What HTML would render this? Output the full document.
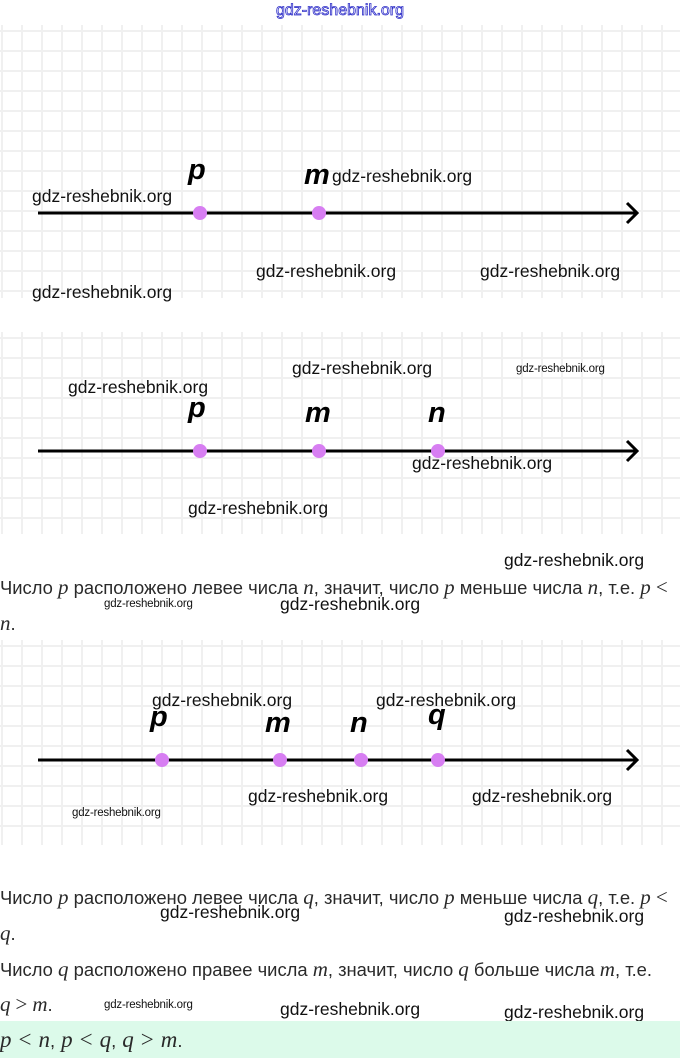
<!DOCTYPE html>
<html><head><meta charset="utf-8">
<style>
html,body{margin:0;padding:0;background:#fff;}
body{width:680px;height:1058px;position:relative;overflow:hidden;font-family:"Liberation Sans",sans-serif;}
.grid{position:absolute;left:0;width:680px;
 background-image:linear-gradient(to right,#f0f0f0 0,#f0f0f0 2px,transparent 2px),linear-gradient(to bottom,#f0f0f0 0,#f0f0f0 2px,transparent 2px);
 background-size:20px 20px;background-position:1px 5px;}
.wm{position:absolute;font-family:"Liberation Sans",sans-serif;font-size:17.5px;color:#111;white-space:nowrap;line-height:1;}
.wms{position:absolute;font-family:"Liberation Sans",sans-serif;font-size:11.5px;color:#111;white-space:nowrap;line-height:1;letter-spacing:-0.2px;}
.lbl{position:absolute;font-family:"Liberation Sans",sans-serif;font-style:italic;font-weight:bold;font-size:29px;color:#000;line-height:1;}
.txt{position:absolute;left:0;font-family:"Liberation Sans",sans-serif;font-size:18.4px;color:#2a2a2a;white-space:nowrap;line-height:1;}
.v{font-family:"Liberation Serif",serif;font-style:italic;font-size:21px;}
.m{font-family:"Liberation Serif",serif;font-size:21px;}
.g .v,.g .m{font-size:23px;}
.op{margin:0 5px;}
.g .op{margin:0 7px;}
.g .c{margin-right:6px;}
</style></head><body>

<div style="position:absolute;left:0;top:3px;width:680px;text-align:center;font-size:16px;color:#fff;-webkit-text-stroke:0.8px #2d2dc8;line-height:1;">gdz-reshebnik.org</div>

<div class="grid" style="top:25px;height:273px;"></div>
<div class="grid" style="top:332px;height:202px;"></div>
<div class="grid" style="top:640px;height:205px;"></div>

<svg width="680" height="1058" style="position:absolute;left:0;top:0;">
 <g stroke="#000" stroke-width="3" fill="none">
  <line x1="38" y1="213" x2="636" y2="213"/>
  <polyline points="627,203 637,213 627,223"/>
  <line x1="38" y1="451" x2="636" y2="451"/>
  <polyline points="627,441 637,451 627,461"/>
  <line x1="38" y1="760" x2="636" y2="760"/>
  <polyline points="627,750 637,760 627,770"/>
 </g>
 <g fill="#d77ef2">
  <circle cx="200" cy="213" r="7"/>
  <circle cx="319" cy="213" r="7"/>
  <circle cx="200" cy="451" r="7"/>
  <circle cx="319" cy="451" r="7"/>
  <circle cx="438" cy="451" r="7"/>
  <circle cx="162" cy="760" r="7"/>
  <circle cx="280" cy="760" r="7"/>
  <circle cx="361" cy="760" r="7"/>
  <circle cx="438" cy="760" r="7"/>
 </g>
</svg>

<!-- panel 1 labels -->
<div class="lbl" style="left:188px;top:156px;">p</div>
<div class="lbl" style="left:304px;top:161px;">m</div>
<div class="wm" style="left:32px;top:188px;">gdz-reshebnik.org</div>
<div class="wm" style="left:332px;top:168px;">gdz-reshebnik.org</div>
<div class="wm" style="left:256px;top:263px;">gdz-reshebnik.org</div>
<div class="wm" style="left:480px;top:263px;">gdz-reshebnik.org</div>
<div class="wm" style="left:32px;top:284px;">gdz-reshebnik.org</div>

<!-- panel 2 -->
<div class="lbl" style="left:188px;top:394px;">p</div>
<div class="lbl" style="left:305px;top:399px;">m</div>
<div class="lbl" style="left:428px;top:399px;">n</div>
<div class="wm" style="left:68px;top:379px;">gdz-reshebnik.org</div>
<div class="wm" style="left:292px;top:360px;">gdz-reshebnik.org</div>
<div class="wms" style="left:516px;top:364px;">gdz-reshebnik.org</div>
<div class="wm" style="left:412px;top:455px;">gdz-reshebnik.org</div>
<div class="wm" style="left:188px;top:500px;">gdz-reshebnik.org</div>

<!-- text 1 -->
<div class="wm" style="left:504px;top:552px;">gdz-reshebnik.org</div>
<div class="txt" style="top:577px;">Число <span class="v">p</span> расположено левее числа <span class="v">n</span>, значит, число <span class="v">p</span> меньше числа <span class="v">n</span>, т.е. <span class="v">p</span> <span class="m">&lt;</span></div>
<div class="wms" style="left:104px;top:599px;">gdz-reshebnik.org</div>
<div class="wm" style="left:280px;top:596px;">gdz-reshebnik.org</div>
<div class="txt" style="top:613px;"><span class="v">n</span>.</div>

<!-- panel 3 -->
<div class="lbl" style="left:150px;top:703px;">p</div>
<div class="lbl" style="left:265px;top:709px;">m</div>
<div class="lbl" style="left:350px;top:709px;">n</div>
<div class="lbl" style="left:428px;top:701px;">q</div>
<div class="wm" style="left:152px;top:692px;">gdz-reshebnik.org</div>
<div class="wm" style="left:376px;top:692px;">gdz-reshebnik.org</div>
<div class="wm" style="left:248px;top:788px;">gdz-reshebnik.org</div>
<div class="wm" style="left:472px;top:788px;">gdz-reshebnik.org</div>
<div class="wms" style="left:72px;top:808px;">gdz-reshebnik.org</div>

<!-- bottom text -->
<div class="txt" style="top:887px;">Число <span class="v">p</span> расположено левее числа <span class="v">q</span>, значит, число <span class="v">p</span> меньше числа <span class="v">q</span>, т.е. <span class="v">p</span> <span class="m">&lt;</span></div>
<div class="wm" style="left:160px;top:904px;">gdz-reshebnik.org</div>
<div class="wm" style="left:504px;top:908px;">gdz-reshebnik.org</div>
<div class="txt" style="top:923px;"><span class="v">q</span>.</div>
<div class="txt" style="top:959px;">Число <span class="v">q</span> расположено правее числа <span class="v">m</span>, значит, число <span class="v">q</span> больше числа <span class="v">m</span>, т.е.</div>
<div class="txt" style="top:994px;"><span class="v">q</span><span class="m op">&gt;</span><span class="v">m</span>.</div>
<div class="wms" style="left:104px;top:1000px;">gdz-reshebnik.org</div>
<div class="wm" style="left:280px;top:1001px;">gdz-reshebnik.org</div>
<div class="wm" style="left:504px;top:1004px;">gdz-reshebnik.org</div>

<div style="position:absolute;left:0;top:1021px;width:680px;height:37px;background:#dcfaea;"></div>
<div class="txt g" style="top:1028px;"><span class="v">p</span><span class="m op">&lt;</span><span class="v">n</span><span class="c">,</span><span class="v">p</span><span class="m op">&lt;</span><span class="v">q</span><span class="c">,</span><span class="v">q</span><span class="m op">&gt;</span><span class="v">m</span>.</div>

</body></html>
